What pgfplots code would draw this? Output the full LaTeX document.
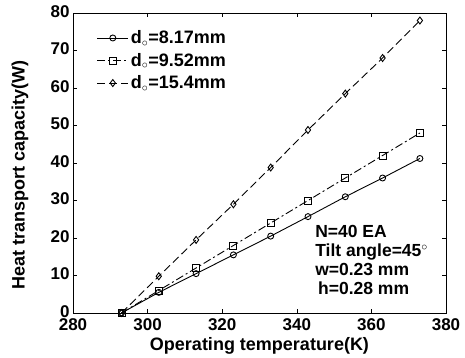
\documentclass[border=0pt]{standalone}
\usepackage{fontspec}
\setmainfont{Liberation Sans}
\usepackage{pgfplots}
\pgfplotsset{compat=1.18}
\begin{document}
\begin{tikzpicture}
\begin{axis}[
  scale only axis, width=373pt, height=300pt,
  xmin=280, xmax=380, ymin=0, ymax=80,
  xtick={280,300,...,380}, ytick={0,10,...,80},
  tick align=inside, tick style={black, thin},
  major tick length=4pt,
  /pgf/number format/assume math mode=true,
  ticklabel style={font=\fontsize{17}{17}\selectfont\bfseries},
  xticklabel style={yshift=-2.5pt},
  yticklabel style={yshift=1.5pt},
  xlabel={Operating temperature(K)},
  ylabel={Heat transport capacity(W)},
  every axis x label/.style={at={(axis description cs:0.5,0)}, anchor=center, yshift=-33pt, font=\fontsize{18}{18}\selectfont\bfseries},
  every axis y label/.style={at={(axis description cs:0,0.46)}, anchor=center, rotate=90, yshift=53pt, font=\fontsize{18}{18}\selectfont\bfseries},
  legend style={draw=none, fill=none, at={(0.055,0.955)}, anchor=north west, font=\fontsize{18}{18}\selectfont\bfseries, row sep=4pt},
  legend cell align=left,
  legend image code/.code={\draw[mark repeat=2,mark phase=2] plot coordinates {(0cm,0cm)(0.55cm,0cm)(1.1cm,0cm)};},
  every axis plot/.append style={black, line width=0.9pt},
]
\addplot[mark=o, mark size=3pt, solid] coordinates {(293,0)(303,5.5)(313,10.5)(323,15.5)(333,20.5)(343,25.7)(353,31)(363,36)(373,41.2)};
\addlegendentry{d$_{\circ}$=8.17mm}
\addplot[mark=square, mark size=3.5pt, dash pattern=on 8pt off 3pt on 2pt off 3pt, mark options={solid}] coordinates {(293,0)(303,6)(313,12)(323,18)(333,24)(343,30)(353,36)(363,42)(373,48)};
\addlegendentry{d$_{\circ}$=9.52mm}
\addplot[mark=diamond, mark size=3.5pt, dash pattern=on 8pt off 4pt, mark options={solid}] coordinates {(293,0)(303,9.8)(313,19.5)(323,29)(333,38.8)(343,48.8)(353,58.5)(363,68)(373,78)};
\addlegendentry{d$_{\circ}$=15.4mm}
\node[anchor=north west, align=left, font=\fontsize{17.5}{19}\selectfont\bfseries] at (axis cs:344,24.3) {N=40 EA\\Tilt angle=45$^{\circ}$\\w=0.23 mm\\\,h=0.28 mm};
\end{axis}
\pgfresetboundingbox
\path ([shift={(-73pt,-44pt)}]current axis.south west) rectangle ([shift={(19pt,13pt)}]current axis.north east);
\end{tikzpicture}
\end{document}
